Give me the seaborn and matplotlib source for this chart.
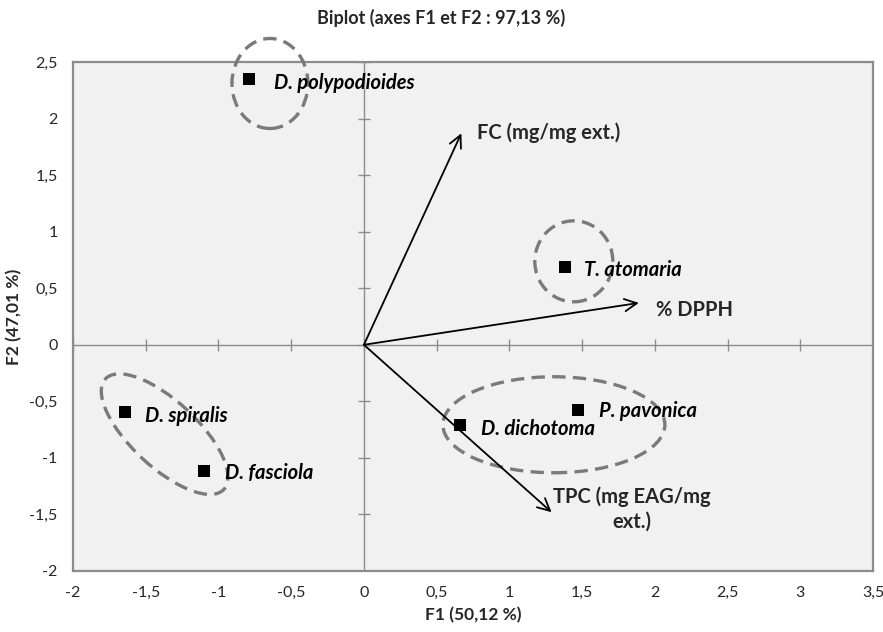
import numpy as np
import pandas as pd
import matplotlib
matplotlib.use("Agg")
import matplotlib.pyplot as plt
import matplotlib.transforms as mtransforms
from matplotlib.patches import Ellipse
import seaborn as sns

# ---- data ----
species = ["D. polypodioides", "T. atomaria", "D. spiralis", "D. fasciola", "D. dichotoma", "P. pavonica"]
f1 = [-0.79, 1.38, -1.64, -1.10, 0.66, 1.47]
f2 = [2.35, 0.69, -0.59, -1.12, -0.71, -0.58]
label_offsets = [(25, -4), (19, -3), (20, -4), (21, -2), (21, -4), (21, -1)]

variables = ["FC (mg/mg ext.)", "% DPPH", "TPC (mg EAG/mg\next.)"]
var_f1 = [0.67, 1.89, 1.29]
var_f2 = [1.87, 0.37, -1.48]

xticks = [-2, -1.5, -1, -0.5, 0, 0.5, 1, 1.5, 2, 2.5, 3, 3.5]
yticks = [-2, -1.5, -1, -0.5, 0, 0.5, 1, 1.5, 2, 2.5]

# groups: centre (data), width/height (px), angle
groups_cx = [-0.646, 1.443, -1.37, 1.306]
groups_cy = [2.31, 0.738, -0.79, -0.707]
groups_w = [76, 78, 162, 222]
groups_h = [90, 81, 66, 96]
groups_ang = [0, 0, -43, 0]

def fmt(v):
    s = ("%g" % v).replace(".", ",")
    return s

sns.set_style("white")
plt.rcParams['font.family'] = ['Lato', 'DejaVu Sans']

fig = plt.figure(figsize=(8.83, 6.32), dpi=100)
ax = fig.add_axes([73/883, 1-571/632, (873-73)/883, (571-62)/632])
ax.set_facecolor("#f1f1f1")

df = pd.DataFrame({"F1": f1, "F2": f2, "species": species})

ax.set_xlim(-2, 3.5)
ax.set_ylim(-2, 2.5)

# zero lines with cross ticks
ax.axhline(0, color="#8c8c8c", lw=1.0, zorder=1)
ax.axvline(0, color="#8c8c8c", lw=1.0, zorder=1)
ax.plot([0]*len(yticks), yticks, ls="none", marker="_", ms=8, mew=1.0, color="#8c8c8c", zorder=1)
ax.plot(xticks, [0]*len(xticks), ls="none", marker="|", ms=8, mew=1.0, color="#8c8c8c", zorder=1)

sns.scatterplot(data=df, x="F1", y="F2", marker="s", s=70, color="black",
                edgecolor="black", linewidth=0, ax=ax, zorder=5, legend=False)

LBL = 14.5
for name, x, y, (dx, dy) in zip(species, f1, f2, label_offsets):
    ax.annotate(name, xy=(x, y), xytext=(dx, dy), textcoords="offset pixels",
                ha="left", va="center", fontsize=LBL, fontweight="bold",
                fontstyle="italic", color="black", zorder=6)

# variable vectors
for name, x, y in zip(variables, var_f1, var_f2):
    ax.annotate("", xy=(x, y), xytext=(0, 0),
                arrowprops=dict(arrowstyle="->", lw=1.3, color="black",
                                mutation_scale=22, shrinkA=0, shrinkB=0), zorder=4)

ax.annotate(variables[0], xy=(var_f1[0], var_f2[0]), xytext=(16, 1), textcoords="offset pixels",
            ha="left", va="center", fontsize=LBL, fontweight="bold")
ax.annotate(variables[1], xy=(var_f1[1], var_f2[1]), xytext=(17, -7), textcoords="offset pixels",
            ha="left", va="center", fontsize=LBL, fontweight="bold")
ax.annotate(variables[2], xy=(var_f1[2], var_f2[2]), xytext=(80, 3), textcoords="offset pixels",
            ha="center", va="center", fontsize=LBL, fontweight="bold",
            multialignment="center", linespacing=1.3)

# dashed ellipses (size in pixels)
for cx, cy, w, h, a in zip(groups_cx, groups_cy, groups_w, groups_h, groups_ang):
    tr = fig.dpi_scale_trans + mtransforms.ScaledTranslation(cx, cy, ax.transData)
    e = Ellipse((0, 0), w/100, h/100, angle=a, transform=tr, fill=False,
                edgecolor="#7a7a7a", lw=2.4, ls=(0, (4, 2.2)), zorder=3, clip_on=False)
    ax.add_patch(e)

ax.set_xticks(xticks)
ax.set_yticks(yticks)
ax.set_xticklabels([fmt(v) for v in xticks], fontsize=11.5)
ax.set_yticklabels([fmt(v) for v in yticks], fontsize=11.5)
ax.tick_params(length=0, pad=11)

for sp in ax.spines.values():
    sp.set_color("#8c8c8c")
    sp.set_linewidth(1.6)
    sp.set_visible(True)

ax.set_xlabel("F1 (50,12 %)", fontsize=12.5, fontweight="bold", labelpad=5)
ax.set_ylabel("F2 (47,01 %)", fontsize=12.5, fontweight="bold", labelpad=5)
fig.suptitle("Biplot (axes F1 et F2 : 97,13 %)", x=0.5, y=1-18/632, va="center",
             fontsize=13, fontweight="bold")

fig.savefig("out.png", dpi=100, facecolor="white")
